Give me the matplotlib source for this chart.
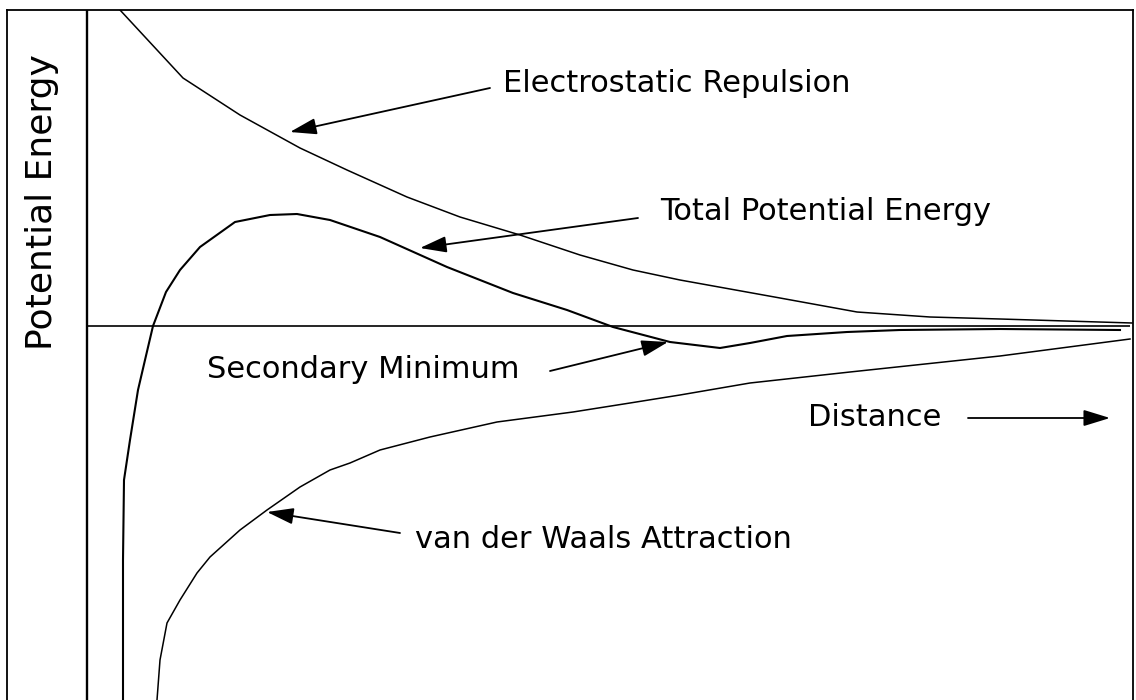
import matplotlib
matplotlib.use("Agg")
import matplotlib.pyplot as plt

# curves (arbitrary distance / energy units)
rep_x = [0.33, 0.96, 1.53, 1.93, 2.13, 2.60, 3.20, 3.73, 4.33, 4.93, 5.46, 5.93,
         6.93, 7.70, 8.43, 9.13, 10.45]
rep_y = [3.16, 2.48, 2.11, 1.89, 1.78, 1.56, 1.29, 1.09, 0.91, 0.71, 0.56, 0.46,
         0.28, 0.14, 0.09, 0.07, 0.03]

tot_x = [0.36, 0.36, 0.37, 0.43, 0.51, 0.58, 0.66, 0.79, 0.93, 1.13, 1.48, 1.83,
         2.10, 2.43, 2.93, 3.60, 4.26, 4.80, 5.26, 5.83, 6.33, 6.63, 7.00, 7.60,
         8.13, 9.13, 10.33]
tot_y = [-3.74, -2.34, -1.54, -1.14, -0.64, -0.34, 0.00, 0.34, 0.56, 0.79, 1.04, 1.11,
         1.12, 1.06, 0.89, 0.59, 0.33, 0.16, -0.01, -0.16, -0.22, -0.17, -0.10, -0.06,
         -0.04, -0.03, -0.04]

vdw_x = [0.70, 0.73, 0.80, 0.93, 1.10, 1.23, 1.53, 1.80, 2.13, 2.43, 2.63, 2.93,
         3.43, 4.10, 4.86, 5.43, 5.93, 6.63, 7.63, 9.13, 10.43]
vdw_y = [-3.74, -3.34, -2.97, -2.74, -2.47, -2.31, -2.04, -1.84, -1.61, -1.44, -1.37, -1.24,
         -1.11, -0.96, -0.86, -0.77, -0.69, -0.57, -0.46, -0.30, -0.13]

# labels: text, text anchor, arrow tail, arrow tip
labels = ["Electrostatic Repulsion", "Total Potential Energy", "Secondary Minimum",
          "Distance", "van der Waals Attraction"]
label_pos = [(4.16, 2.34), (5.73, 1.06), (1.20, -0.52), (7.21, -1.00), (3.28, -2.22)]
arrow_tail = [(4.03, 2.38), (5.51, 1.08), (4.63, -0.45), (8.81, -0.92), (3.13, -2.07)]
arrow_tip = [(2.03, 1.94), (3.33, 0.78), (5.81, -0.16), (10.23, -0.92), (1.80, -1.86)]

x_end = 10.43

fig = plt.figure(figsize=(11.36, 7.0), dpi=100)
ax = fig.add_axes([7 / 1136, 0, 1126 / 1136, 690 / 700])
ax.set_xlim(-0.8, 10.46)
ax.set_ylim(-3.74, 3.16)
ax.set_xticks([])
ax.set_yticks([])
for side in ["left", "right", "top"]:
    ax.spines[side].set_linewidth(1.3)
ax.spines["bottom"].set_visible(False)

# axes drawn inside the frame
ax.axvline(0, color="black", lw=1.7)
ax.hlines(0, 0, x_end, color="black", lw=1.2)

ax.plot(rep_x, rep_y, color="black", lw=1.1)
ax.plot(tot_x, tot_y, color="black", lw=1.5)
ax.plot(vdw_x, vdw_y, color="black", lw=1.1)

font = dict(family="DejaVu Sans", fontsize=22, color="black")
for s, p, a, b in zip(labels, label_pos, arrow_tail, arrow_tip):
    ax.text(p[0], p[1], s, ha="left", va="baseline", **font)
    ax.annotate("", xy=b, xytext=a,
                arrowprops=dict(arrowstyle="-|>,head_length=0.65,head_width=0.2",
                                color="black", lw=1.3, shrinkA=0, shrinkB=0,
                                mutation_scale=25))

ax.text(-0.45, 1.24, "Potential Energy", rotation=90, ha="center", va="center",
        family="DejaVu Sans", fontsize=26)

fig.savefig("out.png", dpi=100)
